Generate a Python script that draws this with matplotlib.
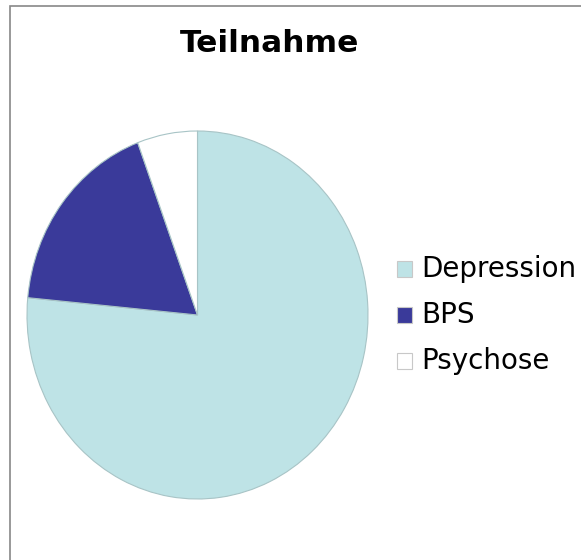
import matplotlib
matplotlib.use("Agg")
import matplotlib.pyplot as plt
from matplotlib.patches import Rectangle

W, H = 581, 560

labels = ["Depression", "BPS", "Psychose"]
shares = [76.5, 17.8, 5.7]
colors = ["#bee3e6", "#3a3a9a", "#ffffff"]

fig = plt.figure(figsize=(W / 100, H / 100), dpi=100)

# outer frame (cropped on the right and bottom)
fig.patches.append(
    Rectangle((10 / W, -0.1), 1.2, (H - 6) / H + 0.1, transform=fig.transFigure,
              fill=False, edgecolor="#888888", linewidth=1.2)
)

ax = fig.add_axes([27 / W, (H - 499) / H, 341 / W, 368 / H])
wedges, _ = ax.pie(
    shares,
    colors=colors,
    startangle=90,
    counterclock=False,
    wedgeprops={"edgecolor": "#a8c4c6", "linewidth": 0.8},
)
ax.set_aspect("auto")
ax.set_xlim(-1, 1)
ax.set_ylim(-1, 1)

fig.text(270 / W, 1 - 43 / H, "Teilnahme", ha="center", va="center",
         fontsize=22.5, fontweight="bold")

for i, (lab, col) in enumerate(zip(labels, colors)):
    y = 269 + i * 46
    fig.patches.append(
        Rectangle((397 / W, 1 - (y + 8) / H), 15 / W, 16 / H, transform=fig.transFigure,
                  facecolor=col, edgecolor="#c8c8c8", linewidth=0.8)
    )
    fig.text(421 / W, 1 - y / H, lab, ha="left", va="center", fontsize=20)

fig.savefig("out.png", dpi=100)
